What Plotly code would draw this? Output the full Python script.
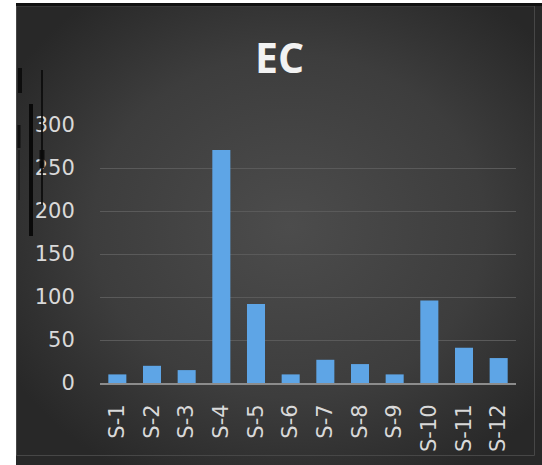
import urllib.parse
import plotly.graph_objects as go

# Sample labels and measured EC values
categories = ["S-1", "S-2", "S-3", "S-4", "S-5", "S-6",
              "S-7", "S-8", "S-9", "S-10", "S-11", "S-12"]
ec_values = [10, 20, 15, 271, 92, 10, 27, 22, 10, 96, 41, 29]
y_ticks = [0, 50, 100, 150, 200, 250, 300]
chart_title = "EC"

W, H = 542, 465

def px_x(p):
    return p / W

def px_y(p):
    return 1 - p / H

# Dark radial-gradient chart background as an inline SVG
svg = (
    "<svg xmlns='http://www.w3.org/2000/svg' width='526' height='460' "
    "preserveAspectRatio='none'><defs>"
    "<radialGradient id='g' cx='52%' cy='48%' r='62%'>"
    "<stop offset='0' stop-color='#4c4c4c'/>"
    "<stop offset='0.6' stop-color='#3d3d3d'/>"
    "<stop offset='1' stop-color='#282828'/>"
    "</radialGradient></defs>"
    "<rect width='100%' height='100%' fill='url(#g)'/></svg>"
)
bg_uri = "data:image/svg+xml;charset=utf-8," + urllib.parse.quote(svg)

fig = go.Figure(
    go.Bar(
        x=categories,
        y=ec_values,
        marker=dict(color="#5ea5e6", line=dict(width=0)),
        width=0.52,
    )
)

fig.update_layout(
    width=W,
    height=H,
    margin=dict(l=0, r=0, t=0, b=0),
    paper_bgcolor="white",
    plot_bgcolor="rgba(0,0,0,0)",
    showlegend=False,
    title=dict(
        text=chart_title,
        x=px_x(279.5),
        y=px_y(59),
        xref="paper",
        yref="paper",
        xanchor="center",
        yanchor="middle",
        font=dict(family="Open Sans", size=41, color="#f2f2f2", weight="bold"),
    ),
    images=[
        dict(
            source=bg_uri,
            xref="paper", yref="paper",
            x=px_x(16), y=px_y(5),
            sizex=px_x(W - 16), sizey=(H - 5) / H,
            xanchor="left", yanchor="top",
            sizing="stretch",
            layer="below",
        )
    ],
    xaxis=dict(
        domain=[px_x(100), px_x(516)],
        range=[-0.5, 11.5],
        showgrid=False,
        showline=True,
        linecolor="#8c8c8c",
        linewidth=2,
        zeroline=False,
        ticks="outside",
        ticklen=11,
        tickcolor="rgba(0,0,0,0)",
        tickangle=-90,
        tickfont=dict(family="DejaVu Sans", size=21, color="#d9d9d9"),
        automargin=False,
        fixedrange=True,
    ),
    yaxis=dict(
        domain=[1 - 383 / H, 1 - 125 / H],
        range=[0, 300],
        tickvals=y_ticks,
        showgrid=True,
        gridcolor="#5a5a5a",
        gridwidth=1,
        zeroline=False,
        showline=False,
        ticks="outside",
        ticklen=20,
        tickcolor="rgba(0,0,0,0)",
        tickfont=dict(family="DejaVu Sans", size=21, color="#d9d9d9"),
        automargin=False,
        fixedrange=True,
    ),
    shapes=[
        # top black edge of the chart frame
        dict(type="line", xref="paper", yref="paper",
             x0=px_x(16), x1=1, y0=px_y(4.5), y1=px_y(4.5),
             line=dict(color="#111111", width=3)),
        # subtle chart-area border
        dict(type="rect", xref="paper", yref="paper",
             x0=px_x(16.5), x1=px_x(534.5), y0=px_y(455.5), y1=px_y(6),
             line=dict(color="#474747", width=1), layer="below"),
        # dark ink strokes along the left edge
        dict(type="line", xref="paper", yref="paper",
             x0=px_x(20), x1=px_x(20), y0=px_y(68), y1=px_y(93),
             line=dict(color="rgba(10,10,10,0.9)", width=4)),
        dict(type="line", xref="paper", yref="paper",
             x0=px_x(19), x1=px_x(19), y0=px_y(125), y1=px_y(148),
             line=dict(color="rgba(10,10,10,0.85)", width=3)),
        dict(type="line", xref="paper", yref="paper",
             x0=px_x(19), x1=px_x(19), y0=px_y(150), y1=px_y(200),
             line=dict(color="rgba(20,20,20,0.5)", width=2)),
        dict(type="line", xref="paper", yref="paper",
             x0=px_x(31), x1=px_x(31), y0=px_y(104), y1=px_y(236),
             line=dict(color="rgba(5,5,5,0.9)", width=4)),
        dict(type="line", xref="paper", yref="paper",
             x0=px_x(42), x1=px_x(42), y0=px_y(70), y1=px_y(205),
             line=dict(color="rgba(10,10,10,0.85)", width=2)),
        dict(type="line", xref="paper", yref="paper",
             x0=px_x(42), x1=px_x(42), y0=px_y(150), y1=px_y(168),
             line=dict(color="rgba(10,10,10,0.9)", width=5)),
    ],
)

fig.write_html("out.html")
